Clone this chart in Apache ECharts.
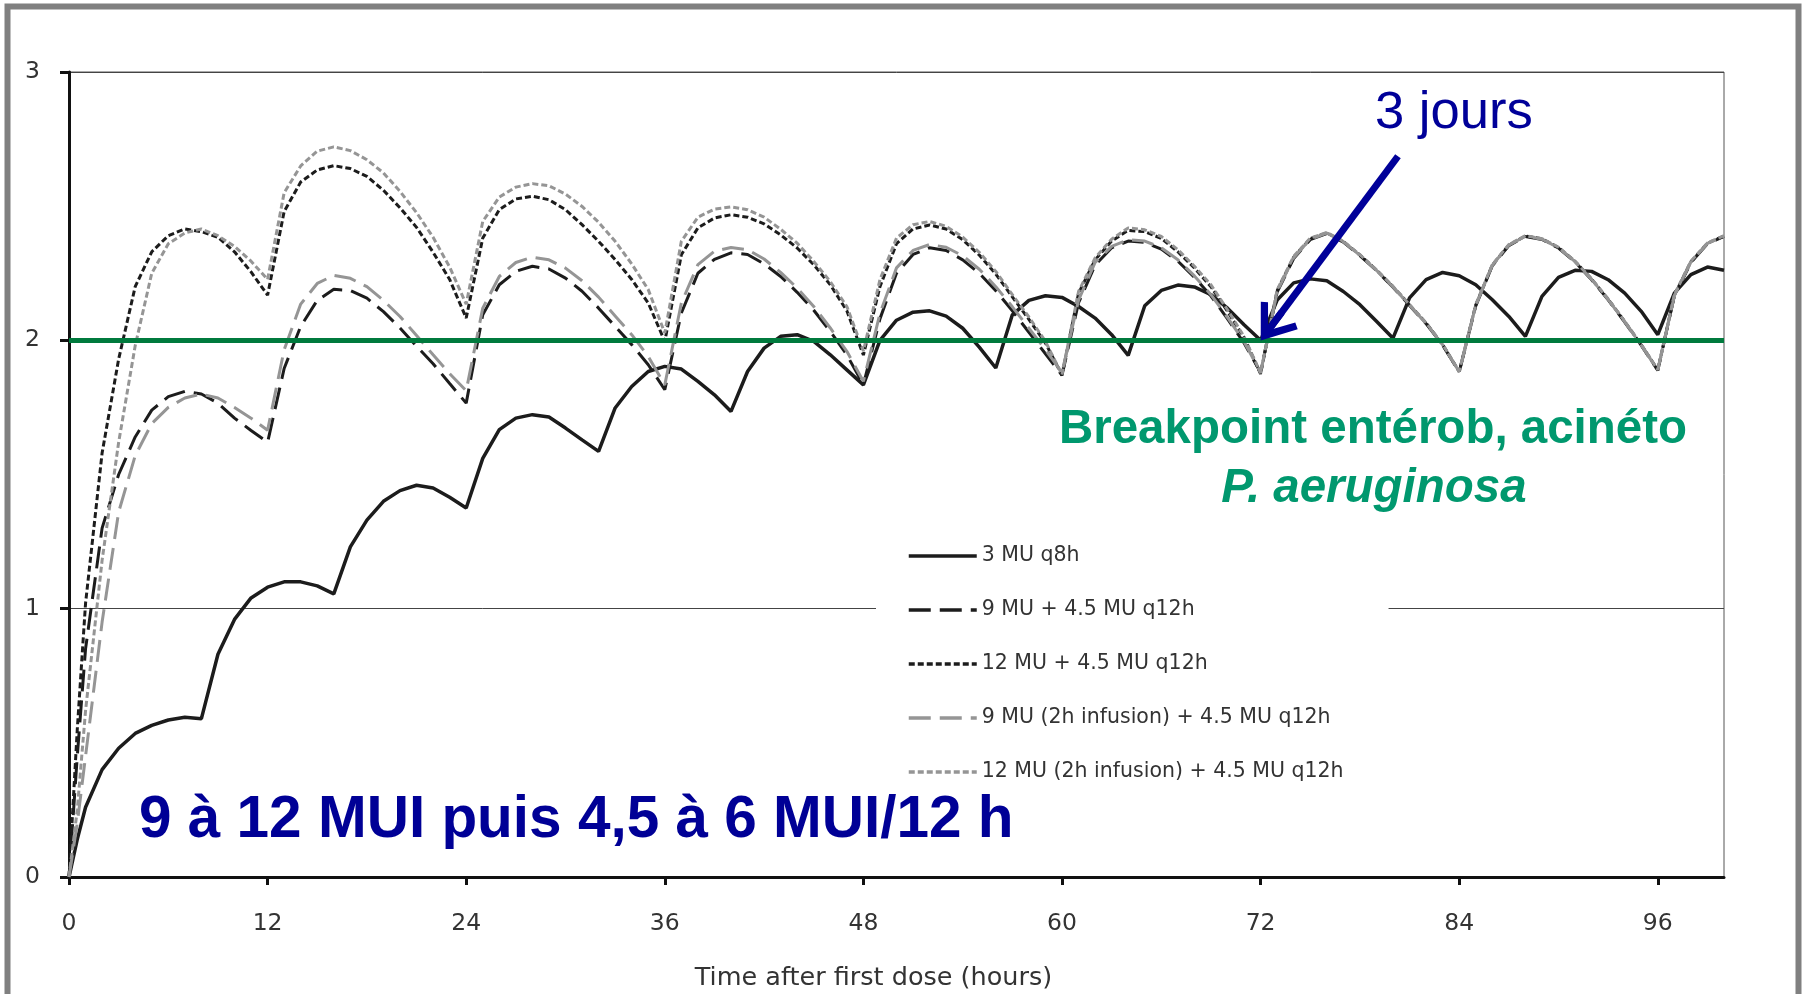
<!DOCTYPE html>
<html>
<head>
<meta charset="utf-8">
<title>Colistine - concentrations</title>
<script src="https://cdn.jsdelivr.net/npm/echarts@6.0.0/dist/echarts.min.js"></script>
<style>
  html, body { margin: 0; padding: 0; background: #fff; }
  #main { width: 1803px; height: 994px; }
</style>
</head>
<body>
<div id="main"></div>
<script>
// temps (h)
var hours = [0, 0.5, 1, 2, 3, 4, 5, 6, 7, 8, 9, 10, 11, 12,
    13, 14, 15, 16, 17, 18, 19, 20, 21, 22, 23, 24,
    25, 26, 27, 28, 29, 30, 31, 32, 33, 34, 35, 36,
    37, 38, 39, 40, 41, 42, 43, 44, 45, 46, 47, 48,
    49, 50, 51, 52, 53, 54, 55, 56, 57, 58, 59, 60,
    61, 62, 63, 64, 65, 66, 67, 68, 69, 70, 71, 72,
    73, 74, 75, 76, 77, 78, 79, 80, 81, 82, 83, 84,
    85, 86, 87, 88, 89, 90, 91, 92, 93, 94, 95, 96,
    97, 98, 99, 100];

var xTicks = [0, 12, 24, 36, 48, 60, 72, 84, 96];

var names = ['3 MU q8h', '9 MU + 4.5 MU q12h', '12 MU + 4.5 MU q12h',
    '9 MU (2h infusion) + 4.5 MU q12h', '12 MU (2h infusion) + 4.5 MU q12h'];

var q8h = [0, 0.14, 0.26, 0.40, 0.48, 0.535, 0.565, 0.585, 0.595, 0.59,
    0.83, 0.96, 1.04, 1.08, 1.10, 1.10, 1.085, 1.055,
    1.23, 1.33, 1.40, 1.44, 1.46, 1.45, 1.415, 1.375,
    1.56, 1.667, 1.71, 1.723, 1.714, 1.673, 1.629, 1.586,
    1.748, 1.828, 1.884, 1.903, 1.893, 1.847, 1.797, 1.735,
    1.884, 1.971, 2.015, 2.021, 1.996, 1.946, 1.89, 1.834,
    2.0, 2.075, 2.105, 2.11, 2.09, 2.045, 1.975, 1.897,
    2.095, 2.149, 2.166, 2.16, 2.126, 2.083, 2.021, 1.944,
    2.129, 2.186, 2.206, 2.199, 2.17, 2.12, 2.058, 2.0,
    2.15, 2.214, 2.229, 2.222, 2.182, 2.133, 2.071, 2.008,
    2.158, 2.226, 2.253, 2.241, 2.207, 2.151, 2.089, 2.015,
    2.164, 2.235, 2.261, 2.257, 2.226, 2.176, 2.108, 2.021,
    2.176, 2.245, 2.273, 2.261];

var mu9 = [0, 0.45, 0.85, 1.30, 1.50, 1.64, 1.74, 1.79, 1.81, 1.80, 1.766, 1.71, 1.664, 1.62,
    1.895, 2.052, 2.149, 2.19, 2.186, 2.157, 2.107, 2.046, 1.978, 1.913, 1.839, 1.766,
    2.095, 2.207, 2.257, 2.276, 2.266, 2.232, 2.183, 2.12, 2.052, 1.984, 1.909, 1.816,
    2.102, 2.25, 2.302, 2.326, 2.32, 2.285, 2.238, 2.179, 2.112, 2.033, 1.946, 1.834,
    2.08, 2.25, 2.32, 2.345, 2.335, 2.30, 2.25, 2.185, 2.11, 2.03, 1.95, 1.87,
    2.14, 2.28, 2.345, 2.37, 2.365, 2.34, 2.295, 2.235, 2.165, 2.08, 1.99, 1.88,
    2.18, 2.305, 2.375, 2.398, 2.366, 2.316, 2.26, 2.198, 2.13, 2.062, 1.982, 1.882,
    2.128, 2.278, 2.353, 2.387, 2.376, 2.344, 2.292, 2.226, 2.151, 2.068, 1.981, 1.888,
    2.165, 2.29, 2.36, 2.387];

var mu12 = [0, 0.55, 1.02, 1.58, 1.93, 2.20, 2.33, 2.39, 2.415, 2.405, 2.384, 2.33, 2.255, 2.168,
    2.48, 2.59, 2.635, 2.651, 2.64, 2.611, 2.559, 2.494, 2.421, 2.328, 2.227, 2.083,
    2.381, 2.487, 2.527, 2.537, 2.524, 2.487, 2.431, 2.369, 2.301, 2.227, 2.139, 1.996,
    2.319, 2.419, 2.456, 2.468, 2.459, 2.434, 2.393, 2.344, 2.282, 2.207, 2.11, 1.945,
    2.20, 2.36, 2.415, 2.43, 2.415, 2.375, 2.318, 2.247, 2.162, 2.078, 1.99, 1.87,
    2.175, 2.30, 2.37, 2.41, 2.405, 2.38, 2.33, 2.27, 2.20, 2.108, 2.01, 1.875,
    2.185, 2.31, 2.379, 2.4, 2.368, 2.318, 2.262, 2.2, 2.132, 2.064, 1.984, 1.883,
    2.131, 2.28, 2.355, 2.389, 2.378, 2.346, 2.294, 2.228, 2.153, 2.07, 1.983, 1.889,
    2.168, 2.293, 2.362, 2.389];

var mu9inf = [0, 0.2, 0.45, 0.95, 1.36, 1.57, 1.69, 1.75, 1.785, 1.80, 1.785, 1.75, 1.71, 1.665,
    1.965, 2.135, 2.212, 2.242, 2.231, 2.2, 2.149, 2.089, 2.018, 1.946, 1.876, 1.812,
    2.12, 2.238, 2.29, 2.31, 2.3, 2.269, 2.222, 2.161, 2.091, 2.021, 1.94, 1.834,
    2.139, 2.282, 2.332, 2.346, 2.338, 2.303, 2.253, 2.195, 2.126, 2.046, 1.959, 1.847,
    2.10, 2.27, 2.335, 2.357, 2.347, 2.315, 2.265, 2.2, 2.125, 2.045, 1.965, 1.88,
    2.15, 2.29, 2.35, 2.375, 2.37, 2.345, 2.3, 2.24, 2.17, 2.085, 1.995, 1.88,
    2.182, 2.308, 2.377, 2.4, 2.367, 2.317, 2.261, 2.199, 2.131, 2.063, 1.983, 1.883,
    2.13, 2.28, 2.355, 2.388, 2.377, 2.345, 2.293, 2.227, 2.152, 2.069, 1.982, 1.889,
    2.167, 2.292, 2.361, 2.388];

var mu12inf = [0, 0.25, 0.62, 1.18, 1.62, 1.98, 2.25, 2.36, 2.40, 2.415, 2.39, 2.35, 2.295, 2.227,
    2.55, 2.65, 2.705, 2.721, 2.707, 2.673, 2.624, 2.555, 2.476, 2.384, 2.273, 2.135,
    2.443, 2.534, 2.571, 2.584, 2.576, 2.545, 2.499, 2.44, 2.369, 2.285, 2.189, 2.027,
    2.369, 2.459, 2.489, 2.497, 2.487, 2.459, 2.414, 2.362, 2.294, 2.219, 2.126, 1.96,
    2.226, 2.381, 2.431, 2.443, 2.425, 2.385, 2.328, 2.257, 2.17, 2.087, 1.996, 1.872,
    2.182, 2.307, 2.377, 2.419, 2.412, 2.387, 2.338, 2.276, 2.207, 2.114, 2.014, 1.878,
    2.188, 2.313, 2.381, 2.402, 2.369, 2.319, 2.263, 2.201, 2.133, 2.065, 1.985, 1.884,
    2.133, 2.282, 2.357, 2.39, 2.379, 2.347, 2.295, 2.229, 2.154, 2.071, 1.984, 1.89,
    2.17, 2.295, 2.363, 2.39];

var breakpoint = 2;
// fleche "3 jours" : depart / arrivee en coordonnees (h, valeur)
var arrowFrom = [80.3, 2.686];
var arrowTo = [72.64, 2.052];

function pairs(ys) {
    var out = [];
    for (var i = 0; i < hours.length; i++) {
        out.push([hours[i], ys[i]]);
    }
    return out;
}

var txtFont = 'DejaVu Sans';
var black = '#1c1c1c', grey = '#959595';

function curve(name, ys, color, width, dash) {
    return {
        name: name,
        type: 'line',
        data: pairs(ys),
        symbol: 'none',
        silent: true,
        lineStyle: { color: color, width: width, type: dash },
        itemStyle: { color: color }
    };
}

var option = {
    backgroundColor: '#fff',
    animation: false,
    grid: { left: 69, right: 79, top: 72, bottom: 117, show: true, borderColor: '#555', borderWidth: 1, outerBoundsMode: 'none' },
    legend: {
        orient: 'vertical',
        left: 876,
        top: 532,
        data: names,
        selectedMode: false,
        itemWidth: 68,
        itemHeight: 14,
        itemGap: 30,
        backgroundColor: '#fff',
        padding: [12, 45, 12, 31],
        itemStyle: { opacity: 0 },
        lineStyle: { width: 3.5 },
        textStyle: { fontFamily: txtFont, fontSize: 20.5, color: '#333', lineHeight: 24 }
    },
    xAxis: {
        type: 'value',
        min: 0,
        max: 100,
        name: 'Time after first dose (hours)',
        nameLocation: 'middle',
        nameGap: 88,
        nameTextStyle: { fontFamily: txtFont, fontSize: 25.5, color: '#333', padding: [0, 46, 0, 0] },
        axisLine: { show: true, onZero: false, lineStyle: { color: '#111', width: 3 } },
        axisTick: { show: true, length: 8, customValues: xTicks, lineStyle: { color: '#111', width: 3 } },
        axisLabel: { customValues: xTicks, margin: 35, fontFamily: txtFont, fontSize: 23.5, color: '#333' },
        splitLine: { show: false }
    },
    yAxis: {
        type: 'value',
        min: 0,
        max: 3,
        interval: 1,
        axisLine: { show: true, onZero: false, lineStyle: { color: '#111', width: 3 } },
        axisTick: { show: true, length: 9, lineStyle: { color: '#111', width: 3 } },
        axisLabel: { margin: 29, fontFamily: txtFont, fontSize: 23.5, color: '#333', padding: [5, 0, 0, 0] },
        splitLine: { show: true, lineStyle: { color: '#444', width: 1 } }
    },
    series: [
        curve(names[0], q8h, black, 3.5, 'solid'),
        curve(names[1], mu9, black, 3, [22, 9]),
        curve(names[2], mu12, black, 3, [6, 3]),
        curve(names[3], mu9inf, grey, 3, [22, 9]),
        curve(names[4], mu12inf, grey, 3, [6, 3]),
        {
            name: 'annotations',
            type: 'line',
            data: [],
            z: 10,
            markLine: {
                silent: true,
                animation: false,
                label: { show: false },
                emphasis: { disabled: true },
                symbol: 'none',
                data: [
                    { yAxis: breakpoint, lineStyle: { color: '#007a3d', width: 5, type: 'solid' } },
                    [
                        { coord: arrowFrom, symbol: 'none', lineStyle: { color: '#000099', width: 7, type: 'solid' } },
                        { coord: arrowTo, symbol: 'path://M0,0 L23,31 L17,35 L3.5,17 L3.5,35 L-3.5,35 L-3.5,17 L-17,35 L-23,31 Z',
                          symbolSize: [46, 35], itemStyle: { color: '#000099' } }
                    ]
                ]
            }
        }
    ],
    graphic: [
        { type: 'rect', silent: true, z: 100, shape: { x: 7.5, y: 6.5, width: 1791, height: 1100 },
          style: { fill: 'none', stroke: '#808080', lineWidth: 6 } },
        { type: 'text', silent: true, z: 50, x: 1375, y: 113.5,
          style: { text: '3 jours', fill: '#000099', fontFamily: 'Liberation Sans', fontSize: 52.6, align: 'left', verticalAlign: 'middle' } },
        { type: 'text', silent: true, z: 50, x: 1373, y: 430.4,
          style: { text: 'Breakpoint entérob, acinéto', fill: '#00986e', fontFamily: 'Liberation Sans', fontWeight: 'bold', fontSize: 47.5, align: 'center', verticalAlign: 'middle' } },
        { type: 'text', silent: true, z: 50, x: 1374, y: 488.7,
          style: { text: 'P. aeruginosa', fill: '#00986e', fontFamily: 'Liberation Sans', fontWeight: 'bold', fontStyle: 'italic', fontSize: 47.5, align: 'center', verticalAlign: 'middle' } },
        { type: 'text', silent: true, z: 50, x: 139, y: 820.4,
          style: { text: '9 à 12 MUI puis 4,5 à 6 MUI/12 h', fill: '#000096', fontFamily: 'Liberation Sans', fontWeight: 'bold', fontSize: 58.5, align: 'left', verticalAlign: 'middle' } }
    ]
};

var myChart = echarts.init(document.getElementById('main'));
myChart.setOption(option);
</script>
</body>
</html>
